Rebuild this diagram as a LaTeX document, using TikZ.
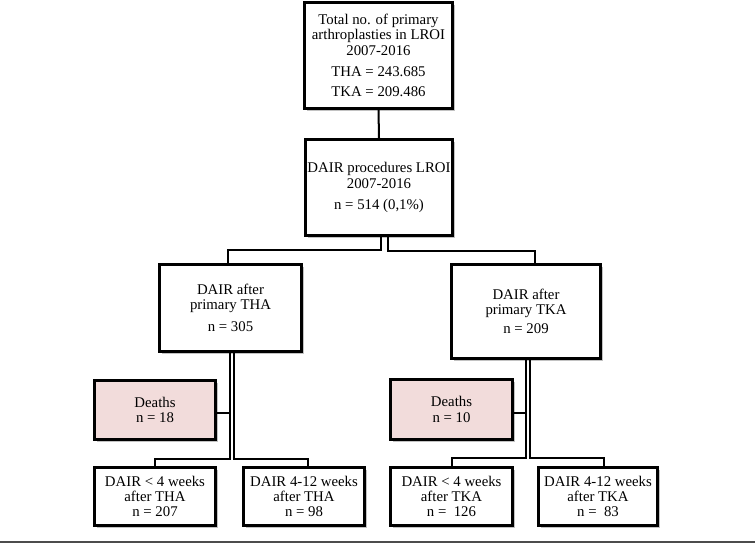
\documentclass[tikz,border=0pt]{standalone}
\usepackage{fontspec}
\setmainfont{Liberation Serif}
\usetikzlibrary{shadows}
\definecolor{deathpink}{RGB}{242,220,219}
\tikzset{
  box/.style={draw=black, line width=3pt, fill=white, align=center,
    inner sep=1pt, font=\fontsize{14.8}{15.3}\selectfont,
    drop shadow={shadow xshift=2.5pt, shadow yshift=-2.5pt, fill=black!40, opacity=0.6}},
  deathbox/.style={box, fill=deathpink},
  conn/.style={draw=black, line width=2pt}
}
\begin{document}
\begin{tikzpicture}[x=1pt, y=-1pt]
\useasboundingbox (0,0) rectangle (755,544);
\node[box, minimum width=148pt, minimum height=106pt] (top) at (378.5,55.5)
  {Total no. of primary\\arthroplasties in LROI\\2007-2016\\[6pt]THA = 243.685\\[5pt]TKA = 209.486};
\node[box, minimum width=147pt, minimum height=96pt] (dair) at (379,187.5)
  {DAIR procedures LROI\\2007-2016\\[6pt]n = 514 (0,1\%)};
\node[box, minimum width=142pt, minimum height=87pt] (tha) at (230.5,308)
  {DAIR after\\primary THA\\[7pt]n = 305};
\node[box, minimum width=149pt, minimum height=94pt] (tka) at (526,311.5)
  {DAIR after\\primary TKA\\[4pt]n = 209};
\node[deathbox, minimum width=121pt, minimum height=59pt] (d1) at (155,410)
  {Deaths\\n = 18};
\node[deathbox, minimum width=122pt, minimum height=60pt] (d2) at (451.5,409.5)
  {Deaths\\n = 10};
\node[box, minimum width=121pt, minimum height=58pt] (b1) at (155,496.5)
  {DAIR < 4 weeks\\after THA\\n = 207};
\node[box, minimum width=121pt, minimum height=58pt] (b2) at (304,496.5)
  {DAIR 4-12 weeks\\after THA\\n = 98};
\node[box, minimum width=122pt, minimum height=58pt] (b3) at (451.5,496.5)
  {DAIR < 4 weeks\\after TKA\\n =\ \ 126};
\node[box, minimum width=119pt, minimum height=58pt] (b4) at (598,496.5)
  {DAIR 4-12 weeks\\after TKA\\n =\ \ 83};
% connectors
\draw[conn] (top.south) -- (dair.north);
\draw[conn] ([xshift=2pt]dair.south) -- ++(0,13) -| ([xshift=-2.5pt]tha.north);
\draw[conn] ([xshift=9pt]dair.south) -- ++(0,14) -| ([xshift=9pt]tka.north);
\draw[conn] ([xshift=-0.5pt]tha.south) |- ([yshift=-3pt]d1.east);
\draw[conn] ([xshift=-0.5pt]tha.south) -- ++(0,106) -| (b1.north);
\draw[conn] ([xshift=3.5pt]tha.south) -- ++(0,106) -| ([xshift=4pt]b2.north);
\draw[conn] (tka.south) |- ([yshift=-3pt]d2.east);
\draw[conn] (tka.south) -- ++(0,98) -| (b3.north);
\draw[conn] ([xshift=3.5pt]tka.south) -- ++(0,98) -| ([xshift=6pt]b4.north);
% bottom rule
\draw[black!70, line width=1.5pt] (0,542) -- (755,542);
\end{tikzpicture}
\end{document}
